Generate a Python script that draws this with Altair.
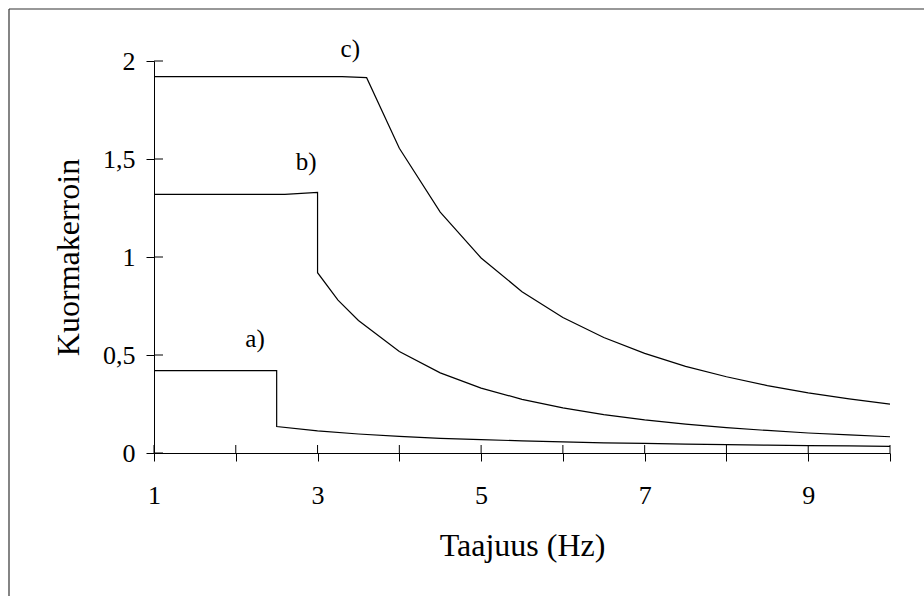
import altair as alt
import pandas as pd

# Series a)
a_x = [1, 2.5, 2.5, 3, 3.5, 4, 4.5, 5, 5.5, 6, 6.5, 7, 7.5, 8, 8.5, 9, 9.5, 10]
a_y = [0.42, 0.42, 0.135, 0.113, 0.097, 0.085, 0.075, 0.068, 0.062, 0.057,
       0.052, 0.049, 0.045, 0.043, 0.040, 0.038, 0.036, 0.034]
# Series b)
b_x = [1, 2.6, 3, 3, 3.25, 3.5, 4, 4.5, 5, 5.5, 6, 6.5, 7, 7.5, 8, 8.5, 9, 9.5, 10]
b_y = [1.32, 1.32, 1.33, 0.92, 0.78, 0.676, 0.518, 0.409, 0.331, 0.274, 0.23,
       0.196, 0.169, 0.147, 0.129, 0.115, 0.102, 0.092, 0.083]
# Series c)
c_x = [1, 3.3, 3.6, 4, 4.5, 5, 5.5, 6, 6.5, 7, 7.5, 8, 8.5, 9, 9.5, 10]
c_y = [1.92, 1.92, 1.915, 1.555, 1.229, 0.995, 0.823, 0.691, 0.589, 0.508,
       0.442, 0.389, 0.344, 0.307, 0.276, 0.249]

# Curve labels
label_text = ["a)", "b)", "c)"]
label_x = [2.235, 2.86, 3.40]
label_y = [0.58, 1.485, 2.06]

# Axis ticks
x_ticks = [1, 2, 3, 4, 5, 6, 7, 8, 9, 10]
y_ticks = [0, 0.5, 1, 1.5, 2]

rows = []
for name, xs, ys in (("a", a_x, a_y), ("b", b_x, b_y), ("c", c_x, c_y)):
    for i, (xv, yv) in enumerate(zip(xs, ys)):
        rows.append({"series": name, "i": i, "x": xv, "y": yv})
lines_df = pd.DataFrame(rows)
labels_df = pd.DataFrame({"t": label_text, "x": label_x, "y": label_y})
xt_df = pd.DataFrame({"v": x_ticks})
yt_df = pd.DataFrame({"v": y_ticks})

FONT = "Liberation Serif"
W, H = 736, 392

xscale = alt.Scale(domain=[1, 10], nice=False, zero=False)
yscale = alt.Scale(domain=[0, 2], nice=False, zero=False)

xaxis = alt.Axis(
    values=x_ticks,
    labelExpr="datum.value % 2 == 1 ? format(datum.value, 'd') : ''",
    tickSize=8, tickColor="black", tickWidth=1,
    domainColor="black", domainWidth=1,
    labelFont=FONT, labelFontSize=26, labelColor="black", labelPadding=21,
    labelFlush=False,
    title="Taajuus (Hz)", titleFont=FONT, titleFontSize=32,
    titleFontWeight="normal", titleColor="black", titleY=77,
    grid=False,
)
yaxis = alt.Axis(
    values=y_ticks,
    labelExpr="replace(format(datum.value, '~g'), '.', ',')",
    tickSize=8, tickColor="black", tickWidth=1,
    domainColor="black", domainWidth=1,
    labelFont=FONT, labelFontSize=26, labelColor="black", labelPadding=11,
    labelFlush=False,
    title="Kuormakerroin", titleFont=FONT, titleFontSize=32,
    titleFontWeight="normal", titleColor="black",
    titleX=-86, titleY=H / 2, titleBaseline="middle", titleAngle=-90,
    grid=False,
)

lines = alt.Chart(lines_df).mark_line(color="black", strokeWidth=1.2).encode(
    x=alt.X("x:Q", scale=xscale, axis=xaxis),
    y=alt.Y("y:Q", scale=yscale, axis=yaxis),
    detail="series:N",
    order="i:Q",
)

labels = alt.Chart(labels_df).mark_text(
    font=FONT, fontSize=25, color="black", align="center", baseline="middle"
).encode(
    x=alt.X("x:Q", scale=xscale),
    y=alt.Y("y:Q", scale=yscale),
    text="t:N",
)

# inward halves of the crossing ticks
xt_in = alt.Chart(xt_df).mark_rule(color="black", strokeWidth=1).encode(
    x=alt.X("v:Q", scale=xscale),
    y=alt.value(H - 8),
    y2=alt.value(H),
)
yt_in = alt.Chart(yt_df).mark_rule(color="black", strokeWidth=1).encode(
    y=alt.Y("v:Q", scale=yscale),
    x=alt.value(0),
    x2=alt.value(9),
)

# outer frame (top and left edges visible)
frame_top = alt.Chart(pd.DataFrame({"k": [0]})).mark_rule(color="#333", strokeWidth=1.2).encode(
    x=alt.value(-145), x2=alt.value(W + 60), y=alt.value(-52)
)
frame_left = alt.Chart(pd.DataFrame({"k": [0]})).mark_rule(color="#333", strokeWidth=1.2).encode(
    x=alt.value(-145), y=alt.value(-52), y2=alt.value(H + 160)
)

chart = alt.layer(frame_top, frame_left, lines, xt_in, yt_in, labels).properties(
    width=W, height=H,
    autosize=alt.AutoSizeParams(type="none"),
    padding={"left": 154, "top": 61, "right": 34, "bottom": 143},
    background="white",
).configure_view(stroke=None)

chart.save("out.html", embed_options={"renderer": "svg", "actions": False})
